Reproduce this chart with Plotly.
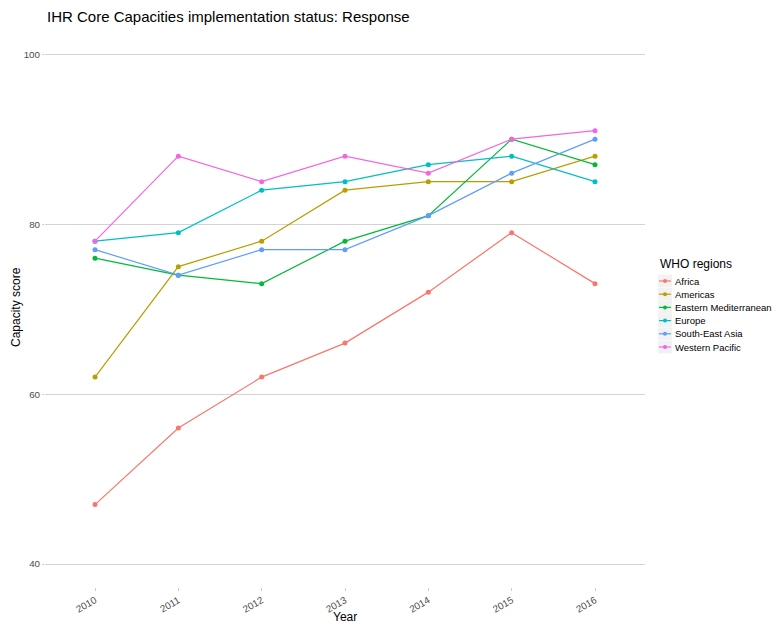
import plotly.graph_objects as go

years = [2010, 2011, 2012, 2013, 2014, 2015, 2016]
year_labels = [str(y) for y in years]
regions = ["Africa", "Americas", "Eastern Mediterranean", "Europe", "South-East Asia", "Western Pacific"]
africa = [47, 56, 62, 66, 72, 79, 73]
americas = [62, 75, 78, 84, 85, 85, 88]
eastern_med = [76, 74, 73, 78, 81, 90, 87]
europe = [78, 79, 84, 85, 87, 88, 85]
se_asia = [77, 74, 77, 77, 81, 86, 90]
w_pacific = [78, 88, 85, 88, 86, 90, 91]
series = [africa, americas, eastern_med, europe, se_asia, w_pacific]
colors = ["#F8766D", "#B79F00", "#00BA38", "#00BFC4", "#619CFF", "#F564E3"]
y_ticks = [40, 60, 80, 100]

W, H = 776, 625
ML, MR, MT, MB = 45, 131, 27, 38
PW, PH = W - ML - MR, H - MT - MB


def px(x):
    return (x - ML) / PW


def py(y):
    return (H - MB - y) / PH


fig = go.Figure()
for name, vals, col in zip(regions, series, colors):
    fig.add_trace(go.Scatter(
        x=year_labels, y=vals, name=name, mode="lines+markers",
        line=dict(color=col, width=1.2),
        marker=dict(color=col, size=5),
        showlegend=False,
    ))

# manual ggplot-style legend
shapes = []
annotations = [
    dict(text="WHO regions", xref="paper", yref="paper",
         x=px(658), y=py(264), xanchor="left", yanchor="middle",
         showarrow=False, font=dict(size=12, color="#000000")),
    dict(text="Capacity score", xref="paper", yref="paper",
         x=px(16), y=0.5, xanchor="center", yanchor="middle", textangle=-90,
         showarrow=False, font=dict(size=12, color="#000000")),
    dict(text="Year", xref="paper", yref="paper",
         x=0.5, y=py(617), xanchor="center", yanchor="middle",
         showarrow=False, font=dict(size=12, color="#000000")),
]
for i, (name, col) in enumerate(zip(regions, colors)):
    yc = 281 + i * 13.2
    shapes.append(dict(type="rect", xref="paper", yref="paper",
                       x0=px(658), x1=px(672), y0=py(yc - 6.4), y1=py(yc + 6.4),
                       fillcolor="#f2f2f2", line=dict(width=0), layer="above"))
    shapes.append(dict(type="line", xref="paper", yref="paper",
                       x0=px(659), x1=px(671), y0=py(yc), y1=py(yc),
                       line=dict(color=col, width=1.2), layer="above"))
    shapes.append(dict(type="circle", xref="paper", yref="paper",
                       x0=px(663), x1=px(667), y0=py(yc - 2), y1=py(yc + 2),
                       fillcolor=col, line=dict(width=0), layer="above"))
    annotations.append(dict(
        text=name, xref="paper", yref="paper",
        x=px(673), y=py(yc), xanchor="left", yanchor="middle",
        showarrow=False, font=dict(size=9.5, color="#000000"),
    ))

fig.update_layout(
    width=W, height=H,
    paper_bgcolor="white", plot_bgcolor="white",
    margin=dict(l=ML, r=MR, t=MT, b=MB, pad=0),
    font=dict(family="Liberation Sans, Arial, sans-serif", color="#000000"),
    title=dict(text="IHR Core Capacities implementation status: Response",
               xref="container", x=47 / W, xanchor="left",
               yref="container", y=1 - 16.5 / H, yanchor="middle",
               font=dict(size=15, color="#000000")),
    showlegend=False,
    shapes=shapes,
    annotations=annotations,
    xaxis=dict(
        type="category", range=[-0.6, 6.6], automargin=False,
        showgrid=False, zeroline=False, showline=False,
        ticks="outside", ticklen=3, tickcolor="#cccccc",
        tickangle=-30, tickfont=dict(size=9.8, color="#4d4d4d"),
    ),
    yaxis=dict(
        range=[37.3, 103.2], tickvals=y_ticks, automargin=False,
        showgrid=True, gridcolor="#d3d3d3", gridwidth=1.3, zeroline=False,
        showline=False, ticks="outside", ticklen=2, tickcolor="#cccccc",
        tickfont=dict(size=9.8, color="#4d4d4d"),
    ),
)

fig.write_html(
    "out.html",
    config={"displayModeBar": False},
    post_script="document.body.style.margin='0';document.body.style.overflow='hidden';",
)
